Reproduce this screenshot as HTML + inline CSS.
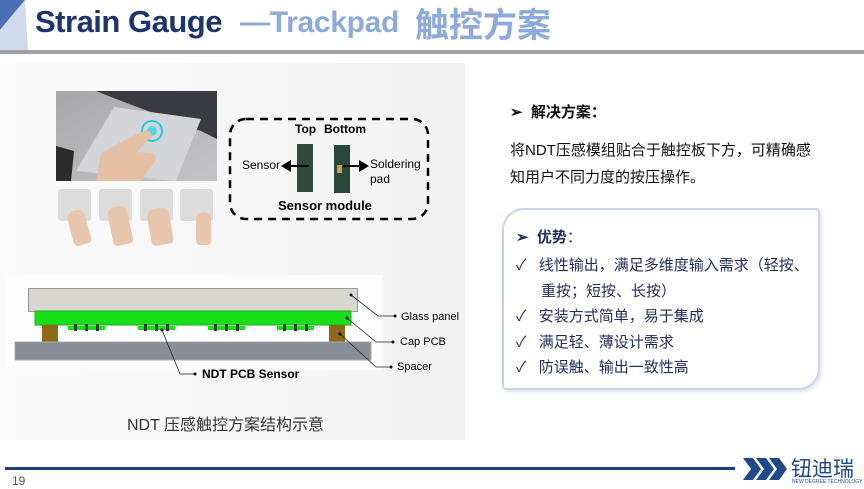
<!DOCTYPE html>
<html><head><meta charset="utf-8"><style>
*{margin:0;padding:0;box-sizing:border-box}
body{width:864px;height:489px;position:relative;overflow:hidden;background:#fff;font-family:"Liberation Sans","Noto Sans CJK SC",sans-serif}
.a{position:absolute;white-space:nowrap}
.t{color:#1f2d5a;font-size:15px}
</style></head><body>
<svg class="a" style="left:0;top:0" width="864" height="60">
<polygon points="0,0 25,0 0,30" fill="#4a6fb5"/>
<polygon points="0,30 25,0 28,50 0,50" fill="#d0dcea"/>
<rect x="0" y="50" width="864" height="4" fill="#a0a0a0"/>
</svg>
<div class="a" style="left:35px;top:4px;font-size:31px;font-weight:bold;color:#1f3370;letter-spacing:-0.5px">Strain Gauge</div>
<div class="a" style="left:240px;top:6px;font-size:30px;font-weight:bold;color:#8eaadb;letter-spacing:-0.3px">—Trackpad</div>
<div class="a" style="left:415px;top:-2px;font-size:34px;font-weight:bold;color:#8eaadb">触控方案</div>

<div class="a" style="left:0;top:63px;width:465px;height:377px;background:linear-gradient(90deg,#fbfbfb,#f2f2f2)"></div>
<!-- laptop photo -->
<svg class="a" style="left:56px;top:91px" width="161" height="90">
<defs><linearGradient id="g" x1="0" y1="0" x2="1" y2="1"><stop offset="0" stop-color="#a8a8aa"/><stop offset="1" stop-color="#c4c4c6"/></linearGradient></defs>
<rect width="161" height="90" fill="url(#g)"/>
<polygon points="40,0 161,0 161,48 145,40 60,8" fill="#3a3b40"/>
<polygon points="58,16 145,28 120,90 20,80" fill="#d4d5d8"/>
<polygon points="0,55 18,60 15,90 0,90" fill="#2a2a2a"/>
<circle cx="96" cy="40" r="10" fill="none" stroke="#2bc7d8" stroke-width="2"/>
<circle cx="96" cy="40" r="5" fill="#4fd8e4"/>
<path d="M40,90 L45,62 Q70,48 88,40 Q96,38 95,46 L80,62 Q105,58 98,72 L85,90 Z" fill="#e6c0a5"/>
</svg>
<!-- pads -->
<div class="a" style="left:58px;top:189px;width:33px;height:32px;background:#dcdcdc;border-radius:3px"></div>
<div class="a" style="left:99px;top:189px;width:33px;height:32px;background:#dcdcdc;border-radius:3px"></div>
<div class="a" style="left:140px;top:189px;width:33px;height:32px;background:#dcdcdc;border-radius:3px"></div>
<div class="a" style="left:180px;top:189px;width:33px;height:32px;background:#dcdcdc;border-radius:3px"></div>
<div class="a" style="left:70px;top:210px;width:18px;height:35px;background:#e8c6ae;border-radius:8px 8px 4px 4px;transform:rotate(-15deg)"></div>
<div class="a" style="left:110px;top:206px;width:20px;height:39px;background:#e8c6ae;border-radius:8px 8px 4px 4px;transform:rotate(-12deg)"></div>
<div class="a" style="left:149px;top:208px;width:22px;height:37px;background:#e8c6ae;border-radius:8px 8px 4px 4px;transform:rotate(-10deg)"></div>
<div class="a" style="left:196px;top:212px;width:15px;height:33px;background:#e8c6ae;border-radius:8px 8px 4px 4px"></div>

<!-- sensor module -->
<svg class="a" style="left:225px;top:115px" width="210" height="110">
<rect x="5" y="4" width="198" height="100" rx="16" fill="none" stroke="#000" stroke-width="2.5" stroke-dasharray="8,6"/>
<rect x="72" y="29" width="16" height="48" fill="#2f4a3a"/>
<rect x="109" y="30" width="16" height="48" fill="#2a4838"/>
<rect x="112" y="50" width="5" height="8" fill="#c9a050"/>
<line x1="84" y1="51" x2="64" y2="51" stroke="#000" stroke-width="2"/>
<polygon points="56,51 66,45 66,57"/>
<line x1="118" y1="51" x2="136" y2="51" stroke="#000" stroke-width="2"/>
<polygon points="144,51 134,45 134,57"/>
</svg>
<div class="a" style="left:295px;top:122px;font-size:12px;font-weight:bold">Top</div>
<div class="a" style="left:324px;top:122px;font-size:12px;font-weight:bold">Bottom</div>
<div class="a" style="left:242px;top:158px;font-size:12px">Sensor</div>
<div class="a" style="left:370px;top:157px;font-size:12px;line-height:15px">Soldering<br>pad</div>
<div class="a" style="left:278px;top:198px;font-size:13px;font-weight:bold">Sensor module</div>

<!-- cross section -->
<svg class="a" style="left:0;top:270px" width="465" height="115">
<rect x="5" y="5" width="378" height="95" fill="#fdfdfd"/>
<rect x="28.5" y="18.5" width="329" height="23" fill="#d8d8d0" stroke="#999"/>
<rect x="35" y="41" width="316" height="14" fill="#18e018" stroke="#2a2"/>
<rect x="42" y="55" width="16" height="17" fill="#8b6a18"/>
<rect x="329" y="55" width="16" height="17" fill="#8b6a18"/>
<rect x="15" y="72" width="356" height="18" fill="#878e98" stroke="#aaa"/>
<g fill="#18e018"><rect x="68" y="56" width="37" height="4"/><rect x="138" y="56" width="37" height="4"/><rect x="208" y="56" width="37" height="4"/><rect x="277" y="56" width="37" height="4"/></g>
<g fill="#333"><rect x="74" y="54" width="3" height="7"/><rect x="85" y="54" width="3" height="7"/><rect x="96" y="54" width="3" height="7"/><rect x="144" y="54" width="3" height="7"/><rect x="155" y="54" width="3" height="7"/><rect x="166" y="54" width="3" height="7"/><rect x="214" y="54" width="3" height="7"/><rect x="225" y="54" width="3" height="7"/><rect x="236" y="54" width="3" height="7"/><rect x="283" y="54" width="3" height="7"/><rect x="294" y="54" width="3" height="7"/><rect x="305" y="54" width="3" height="7"/></g>
<g fill="none" stroke="#222" stroke-width="0.8">
<polyline points="351,25 378,46 395,46"/>
<polyline points="347,48 376,72 393,72"/>
<polyline points="340,64 376,97 391,97"/>
<polyline points="162,60 180,104 195,104"/>
</g>
<g fill="#000"><circle cx="351" cy="25" r="1.5"/><circle cx="395" cy="46" r="1.5"/><circle cx="347" cy="48" r="1.5"/><circle cx="393" cy="72" r="1.5"/><circle cx="340" cy="64" r="1.5"/><circle cx="391" cy="97" r="1.5"/><circle cx="162" cy="60" r="1.5"/><circle cx="195" cy="104" r="1.5"/></g>
</svg>
<div class="a" style="left:401px;top:311px;font-size:11px">Glass panel</div>
<div class="a" style="left:400px;top:336px;font-size:11px">Cap PCB</div>
<div class="a" style="left:397px;top:361px;font-size:11px">Spacer</div>
<div class="a" style="left:202px;top:367px;font-size:12px;font-weight:bold">NDT PCB Sensor</div>
<div class="a" style="left:127px;top:411px;font-size:16px;color:#333">NDT 压感触控方案结构示意</div>

<!-- right -->
<div class="a" style="left:510px;top:101px;font-size:15px;font-weight:bold;color:#111">➢ &nbsp;解决方案：</div>
<div class="a" style="left:510px;top:137px;font-size:15px;color:#111;line-height:27px">将NDT压感模组贴合于触控板下方，可精确感<br>知用户不同力度的按压操作。</div>
<div class="a" style="left:502px;top:208px;width:318px;height:182px;border:2px solid #c8d4ea;border-radius:22px 4px 22px 4px;box-shadow:2px 2px 3px #e0e6f0"></div>
<div class="a t" style="left:516px;top:226px;font-weight:bold">➢ &nbsp;优势<span style="font-weight:normal">：</span></div>
<div class="a t" style="left:516px;top:253px;line-height:25.5px">✓&nbsp;&nbsp; 线性输出，满足多维度输入需求（轻按、<br>&nbsp;&nbsp;&nbsp;&nbsp;&nbsp; 重按；短按、长按）<br>✓&nbsp;&nbsp; 安装方式简单，易于集成<br>✓&nbsp;&nbsp; 满足轻、薄设计需求<br>✓&nbsp;&nbsp; 防误触、输出一致性高</div>

<!-- footer -->
<div class="a" style="left:5px;top:467px;width:730px;height:3px;background:#1f3f78"></div>
<div class="a" style="left:12px;top:474px;font-size:12px;color:#555">19</div>
<svg class="a" style="left:743px;top:455px" width="45" height="28">
<g fill="#1f4a8a"><polygon points="0,3 10,3 18,14 10,25 0,25 8,14"/><polygon points="13,3 23,3 31,14 23,25 13,25 21,14"/><polygon points="26,3 36,3 44,14 36,25 26,25 34,14"/></g>
</svg>
<div class="a" style="left:791px;top:453px;font-size:21px;color:#1f4a8a">钮迪瑞</div>
<div class="a" style="left:792px;top:479px;font-size:5px;color:#1f4a8a">NEW DEGREE TECHNOLOGY</div>
</body></html>
